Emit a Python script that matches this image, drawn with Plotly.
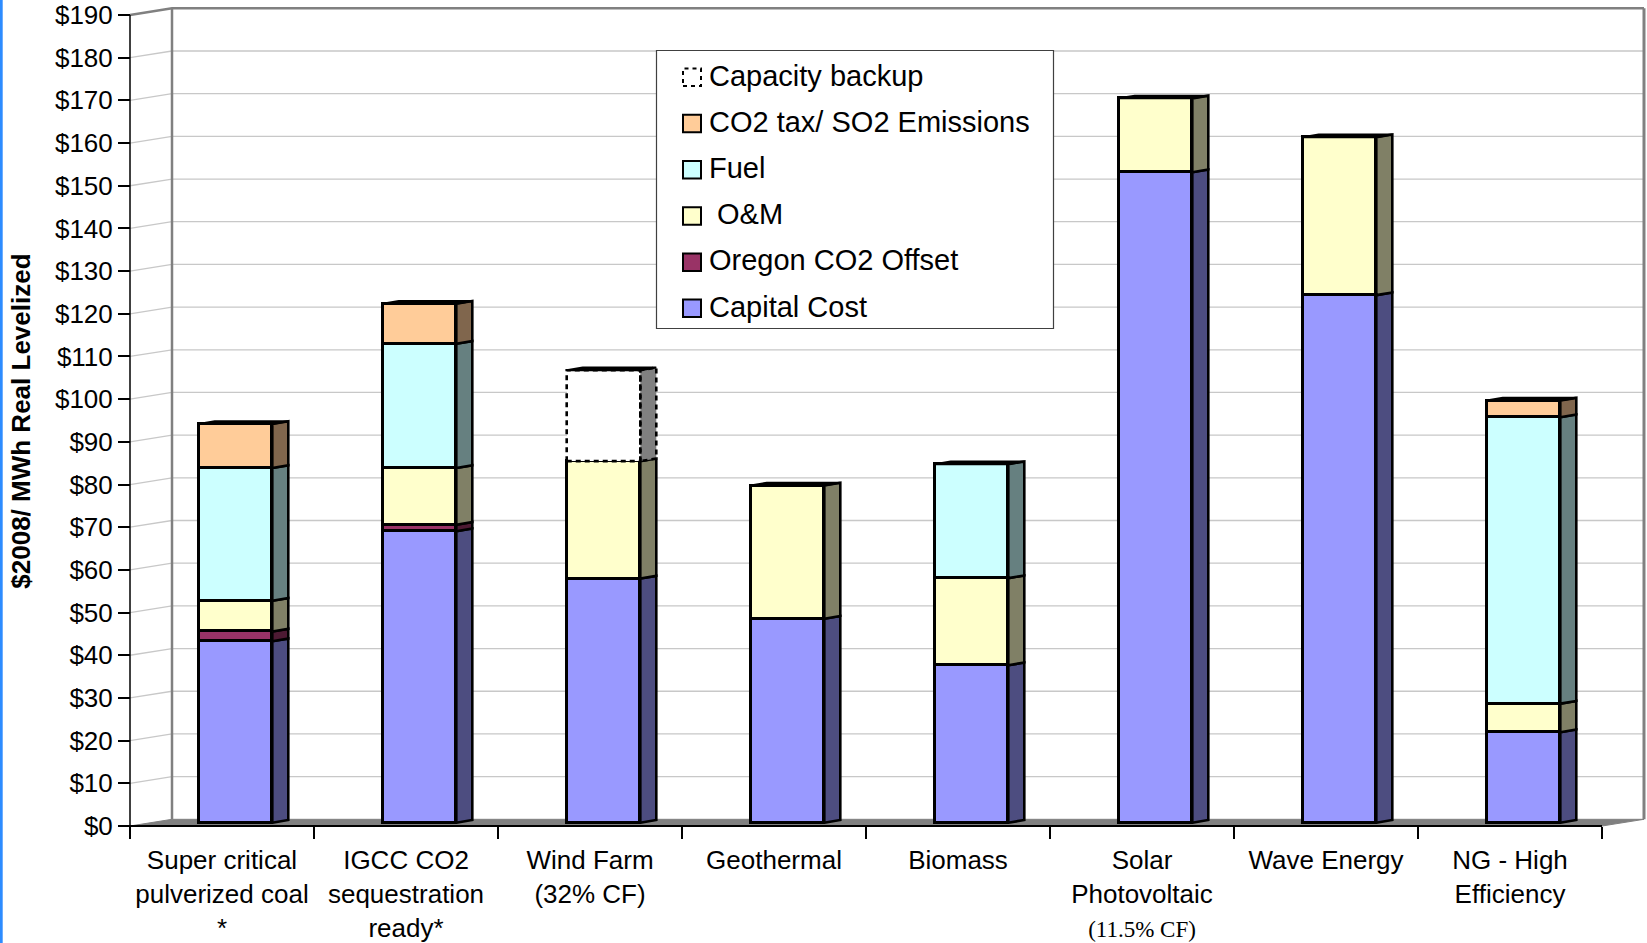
import plotly.graph_objects as go

# ---- data ($2008 per MWh, real levelized) ----
categories = [
    "Super critical<br>pulverized coal<br>*",
    "IGCC CO2<br>sequestration<br>ready*",
    "Wind Farm<br>(32% CF)",
    "Geothermal",
    "Biomass",
    "Solar<br>Photovoltaic<br><span style=\"font-family:'Liberation Serif',serif;font-size:23px\">(11.5% CF)</span>",
    "Wave Energy",
    "NG - High<br>Efficiency",
]
capital_cost = [42.5, 68.3, 57.2, 47.8, 36.9, 152.4, 123.6, 21.2]
oregon_co2_offset = [2.3, 1.5, 0, 0, 0, 0, 0, 0]
o_and_m = [7.2, 13.3, 27.5, 31.2, 20.4, 17.3, 37.0, 6.7]
fuel = [31.1, 29.1, 0, 0, 26.7, 0, 0, 67.1]
co2_tax = [10.3, 9.4, 0, 0, 0, 0, 0, 3.9]
capacity_backup = [0, 0, 21.3, 0, 0, 0, 0, 0]

y_tick_values = list(range(0, 200, 10))
y_tick_labels = [f"${v}" for v in y_tick_values]

# series: name, values, front colour, side colour (bottom to top)
series = [
    ("Capital Cost", capital_cost, "#9999FF", "#4D4D80"),
    ("Oregon CO2 Offset", oregon_co2_offset, "#993366", "#4D1A33"),
    ("\u00a0O&M", o_and_m, "#FFFFCC", "#808066"),
    ("Fuel", fuel, "#CCFFFF", "#668080"),
    ("CO2 tax/ SO2 Emissions", co2_tax, "#FFCC99", "#80664D"),
    ("Capacity backup", capacity_backup, "#FFFFFF", "#808080"),
]

# ---- page geometry (pixels) ----
W, H = 1647, 943
PL, PR, PT, PB = 100, 1647, 0, 860          # plot area
CAT0, CATW = 130, 184                        # first category boundary, category width
Y0, K = 826, 4.2684                          # front-plane zero, pixels per $1
BAR_DY = 3.3                                 # bar front faces sit slightly behind the axis plane
BACK_DX, BACK_DY = 42, 6.7                   # back wall offset
DEPTH_DX, DEPTH_DY = 16, 2.7                 # bar depth
BAR_SHIFT, BAR_W = 13.5, 73.6

n = len(categories)
x_range = [(PL - CAT0) / CATW - 0.5, (PR - CAT0) / CATW - 0.5]
y_range = [(Y0 - PB) / K, (Y0 - PT) / K]
y2_range = [(Y0 - BAR_DY - PB) / K, (Y0 - BAR_DY - PT) / K]
bx, bv = BACK_DX / CATW, BACK_DY / K
dx, du = DEPTH_DX / CATW, DEPTH_DY / K
bw = BAR_W / CATW
xc = [i + BAR_SHIFT / CATW for i in range(n)]


def fx(px):
    return (px - PL) / (PR - PL)


def fy(py):
    return (PB - py) / (PB - PT)


fig = go.Figure()

# front faces: stacked bars
for name, vals, col, side in series:
    is_backup = name == "Capacity backup"
    fig.add_trace(go.Bar(
        x=xc, y=[v if v else None for v in vals], width=bw,
        marker=dict(color=col, line=dict(color="black", width=0 if is_backup else 2.6)),
        name=name, xaxis="x", yaxis="y2", showlegend=False, hoverinfo="skip",
    ))

# side faces, one polygon per stacked segment
base = [0.0] * n
for name, vals, col, side in series:
    is_backup = name == "Capacity backup"
    sx, sy = [], []
    ox, oy = [], []
    for i, v in enumerate(vals):
        if not v:
            continue
        b, t = base[i], base[i] + v
        xr = xc[i] + bw / 2
        xl = xc[i] - bw / 2
        sx += [xr, xr, xr + dx, xr + dx, xr, None]
        sy += [b, t, t + du, b + du, b, None]
        if is_backup:
            ox += [xl, xl, xr, xr, xl, None]
            oy += [b, t, t, b, b, None]
        base[i] = t
    if sx:
        fig.add_trace(go.Scatter(
            x=sx, y=sy, mode="lines", fill="toself", fillcolor=side,
            line=dict(color="black", width=2.6, dash="5px,4px" if is_backup else "solid"),
            xaxis="x", yaxis="y2", showlegend=False, hoverinfo="skip",
        ))
    if ox:
        fig.add_trace(go.Scatter(
            x=ox, y=oy, mode="lines",
            line=dict(color="black", width=2.6, dash="5px,4px"),
            xaxis="x", yaxis="y2", showlegend=False, hoverinfo="skip",
        ))

# top faces
tx, ty = [], []
for i in range(n):
    t = base[i]
    xl, xr = xc[i] - bw / 2, xc[i] + bw / 2
    tx += [xl, xl + dx, xr + dx, xr, xl, None]
    ty += [t, t + du, t + du, t, t, None]
fig.add_trace(go.Scatter(
    x=tx, y=ty, mode="lines", fill="toself", fillcolor="black",
    line=dict(color="black", width=2), xaxis="x", yaxis="y2",
    showlegend=False, hoverinfo="skip",
))

# ---- walls, floor and gridlines (in front-axis units) ----
shapes = []
xl0, xb0, xr0, xrb = -0.5, -0.5 + bx, n - 0.5, n - 0.5 + bx
ymax = y_tick_values[-1]
for v in y_tick_values[1:-1]:
    shapes.append(dict(type="path", xref="x", yref="y", layer="below",
                       path=f"M{xl0},{v} L{xb0},{v + bv} L{xrb},{v + bv}",
                       line=dict(color="#C8C8C8", width=1.3)))
# floor
shapes.append(dict(type="path", xref="x", yref="y", layer="below",
                   path=f"M{xl0},0 L{xb0},{bv} L{xrb},{bv} L{xr0},0 Z",
                   fillcolor="#808080", line=dict(color="#808080", width=1)))
# back wall edges
shapes.append(dict(type="path", xref="x", yref="y", layer="below",
                   path=f"M{xl0},{ymax} L{xb0},{ymax + bv} L{xrb},{ymax + bv}",
                   line=dict(color="#808080", width=2.5)))
shapes.append(dict(type="line", xref="x", yref="y", layer="below",
                   x0=xb0, x1=xb0, y0=bv, y1=ymax + bv,
                   line=dict(color="#808080", width=2.5)))
shapes.append(dict(type="line", xref="x", yref="y", layer="below",
                   x0=xrb, x1=xrb, y0=bv, y1=ymax + bv,
                   line=dict(color="#808080", width=3)))
# front axis lines
shapes.append(dict(type="line", xref="x", yref="y", layer="above",
                   x0=xl0, x1=xl0, y0=0, y1=ymax, line=dict(color="black", width=1.5)))
shapes.append(dict(type="line", xref="x", yref="y", layer="above",
                   x0=xl0, x1=xr0, y0=0, y1=0, line=dict(color="black", width=2)))

# left page edge stripe
shapes.append(dict(type="rect", xref="paper", yref="paper", layer="above",
                   x0=fx(0), x1=fx(2.7), y0=fy(H), y1=fy(0),
                   fillcolor="#2D8CFF", line=dict(width=0)))

# ---- legend box ----
annotations = []
LEG_L, LEG_T, LEG_R, LEG_B = 656.5, 50.5, 1053.5, 328.5
shapes.append(dict(type="rect", xref="paper", yref="paper", layer="above",
                   x0=fx(LEG_L), x1=fx(LEG_R), y0=fy(LEG_B), y1=fy(LEG_T),
                   fillcolor="white", line=dict(color="#404040", width=1.2)))
row0, row_step = 75.6, 46.2
for j, (name, vals, col, side) in enumerate(reversed(series)):
    cy = row0 + j * row_step
    is_backup = name == "Capacity backup"
    shapes.append(dict(type="rect", xref="paper", yref="paper", layer="above",
                       x0=fx(683), x1=fx(701), y0=fy(cy + 10.5), y1=fy(cy - 7),
                       fillcolor="white" if is_backup else col,
                       line=dict(color="black", width=2, dash="4px,4px" if is_backup else "solid")))
    annotations.append(dict(xref="paper", yref="paper", x=fx(707), y=fy(cy),
                            xanchor="left", yanchor="middle", showarrow=False, text=name,
                            font=dict(family="Liberation Sans, Arial, sans-serif",
                                      size=29, color="black")))

# y-axis title
annotations.append(dict(xref="paper", yref="paper", x=fx(21), y=fy(421.7),
                        xanchor="center", yanchor="middle", showarrow=False,
                        textangle=-90, text="<b>$2008/ MWh Real Levelized</b>",
                        font=dict(family="Liberation Sans, Arial, sans-serif",
                                  size=26, color="black")))

fig.update_layout(
    width=W, height=H,
    margin=dict(l=PL, r=W - PR, t=PT, b=H - PB),
    paper_bgcolor="white", plot_bgcolor="white",
    barmode="stack", bargap=0,
    showlegend=False,
    font=dict(family="Liberation Sans, Arial, sans-serif", size=26, color="black"),
    shapes=shapes, annotations=annotations,
    xaxis=dict(
        range=x_range, anchor="free", position=fy(Y0),
        tickmode="array", tickvals=list(range(n)), ticktext=categories,
        ticks="outside", ticklen=0, showgrid=False, zeroline=False, showline=False,
        tickfont=dict(size=26), ticklabelstandoff=11,
        minor=dict(tickmode="array", tickvals=[i - 0.5 for i in range(n + 1)],
                   ticks="outside", ticklen=12, tickwidth=1.5, tickcolor="black",
                   showgrid=False),
    ),
    yaxis=dict(
        range=y_range, anchor="free", position=fx(CAT0),
        tickmode="array", tickvals=y_tick_values, ticktext=y_tick_labels,
        ticks="outside", ticklen=12, tickwidth=1.5, tickcolor="black",
        showgrid=False, zeroline=False, showline=False,
        tickfont=dict(size=26),
    ),
    yaxis2=dict(range=y2_range, overlaying="y", visible=False, showgrid=False,
                zeroline=False),
)

fig.write_html("out.html")
